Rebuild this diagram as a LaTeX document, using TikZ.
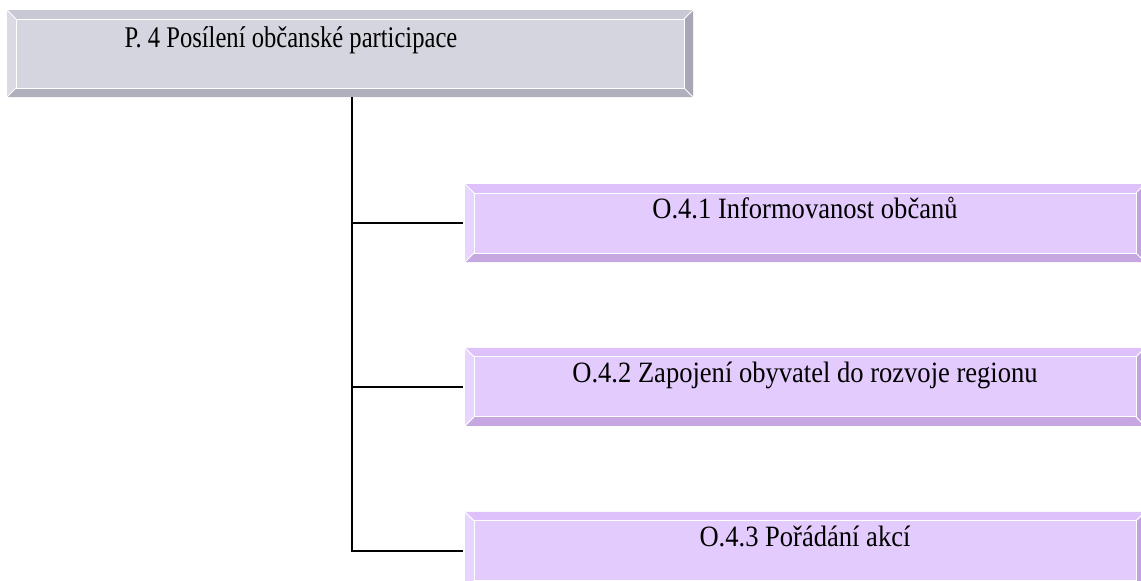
\documentclass[tikz,border=0pt]{standalone}
\usepackage{fontspec}
\setmainfont{Liberation Serif}
\newfontfamily\headfont{Liberation Serif}[FakeStretch=0.82]
\newfontfamily\goalfont{Liberation Serif}[FakeStretch=0.9]
\usetikzlibrary{positioning}

\definecolor{headfill}{HTML}{D5D5E0}
\definecolor{headtop}{HTML}{C9C9D5}
\definecolor{headleft}{HTML}{DADAE4}
\definecolor{headbottom}{HTML}{AFAFBD}
\definecolor{headright}{HTML}{A7A7B5}
\definecolor{goalfill}{HTML}{E3CBFD}
\definecolor{goaltop}{HTML}{DEC1FB}
\definecolor{goalleft}{HTML}{E8D5FF}
\definecolor{goalbottom}{HTML}{C6A7E2}
\definecolor{goalright}{HTML}{C2A2DE}

\begin{document}
\begin{tikzpicture}[
    x=1pt, y=-1pt,
    bevel/.style n args={4}{path picture={
        \coordinate (bnw) at (path picture bounding box.north west);
        \coordinate (bne) at (path picture bounding box.north east);
        \coordinate (bsw) at (path picture bounding box.south west);
        \coordinate (bse) at (path picture bounding box.south east);
        \fill[#1] (bnw) -- (bne) -- ([shift={(-9pt,-9pt)}]bne) -- ([shift={(9pt,-9pt)}]bnw) -- cycle;
        \fill[#2] (bnw) -- ([shift={(9pt,-9pt)}]bnw) -- ([shift={(9pt,9pt)}]bsw) -- (bsw) -- cycle;
        \fill[#3] (bsw) -- (bse) -- ([shift={(-9pt,9pt)}]bse) -- ([shift={(9pt,9pt)}]bsw) -- cycle;
        \fill[#4] (bne) -- (bse) -- ([shift={(-9pt,9pt)}]bse) -- ([shift={(-9pt,-9pt)}]bne) -- cycle;
        \draw[white, line width=1pt] ([shift={(9pt,-9pt)}]bnw) rectangle ([shift={(-9pt,9pt)}]bse);
        \draw[white, line width=1pt] (bnw) -- ([shift={(9pt,-9pt)}]bnw)
            (bsw) -- ([shift={(9pt,9pt)}]bsw)
            (bne) -- ([shift={(-9pt,-9pt)}]bne)
            (bse) -- ([shift={(-9pt,9pt)}]bse);
    }},
    headbox/.style={rectangle, fill=headfill, minimum width=686pt, minimum height=87pt, bevel={headtop}{headleft}{headbottom}{headright}},
    goalbox/.style={rectangle, fill=goalfill, minimum width=680pt, minimum height=78pt, bevel={goaltop}{goalleft}{goalbottom}{goalright}},
    headtext/.style={anchor=base, inner sep=0pt, font=\headfont\fontsize{30pt}{36pt}\selectfont},
    goaltext/.style={anchor=base, inner sep=0pt, font=\goalfont\fontsize{29.5pt}{35pt}\selectfont},
    link/.style={draw=black, line width=1.8pt}
]
    \path[use as bounding box, clip] (0,0) rectangle (1141,581);

    % PRIORITY BOX
    \node (p4) [headbox] at (350,53.5) {};
    \node (p4text) [headtext] at ([xshift=-59pt, yshift=-38pt]p4.north) {P. 4 Posílení občanské participace};

    % GOAL BOXES
    \node (o41) [goalbox] at (805,223) {};
    \node (o42) [goalbox, below=85.5pt of o41] {};
    \node (o43) [goalbox, below=85.5pt of o42] {};

    \node (o41text) [goaltext] at ([yshift=-35pt]o41.north) {O.4.1 Informovanost občanů};
    \node (o42text) [goaltext] at ([yshift=-35pt]o42.north) {O.4.2 Zapojení obyvatel do rozvoje regionu};
    \node (o43text) [goaltext] at ([yshift=-35pt]o43.north) {O.4.3 Pořádání akcí};

    % TREE LINKS
    \draw [link] ([xshift=2pt]p4.south) |- ([xshift=-2pt]o43.west);
    \draw [link] ([xshift=2pt]p4.south |- o41.west) -- ([xshift=-2pt]o41.west);
    \draw [link] ([xshift=2pt]p4.south |- o42.west) -- ([xshift=-2pt]o42.west);

\end{tikzpicture}
\end{document}
